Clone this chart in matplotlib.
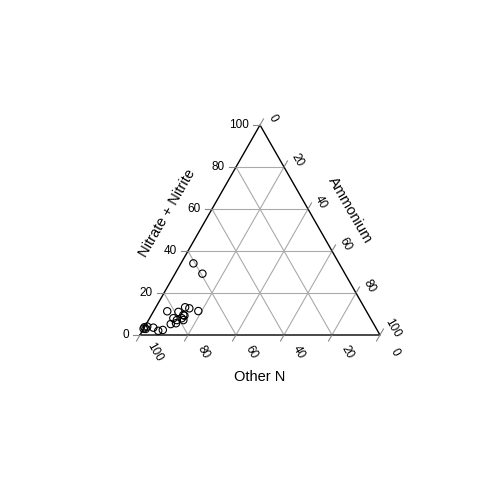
import matplotlib
matplotlib.use("Agg")
import matplotlib.pyplot as plt
import numpy as np

plt.rcParams['font.family'] = ['Liberation Sans', 'DejaVu Sans']

nitrate = [34.1, 29.2, 11.3, 11.0, 13.2, 12.7, 11.4, 9.5, 8.0, 7.1, 8.0, 9.2, 7.1, 5.2, 5.6, 3.5, 2.4, 2.0, 3.7, 2.9, 3.0, 4.0]
ammonium = [5.2, 11.4, 5.7, 10.5, 12.2, 14.2, 18.6, 13.3, 9.9, 11.8, 13.4, 13.9, 14.5, 10.2, 12.2, 3.8, 8.3, 6.6, 0.0, 0.9, 0.0, 1.0]
ticks = [0, 20, 40, 60, 80, 100]

fig = plt.figure(figsize=(4.8, 4.8), dpi=100)
ax = fig.add_axes([0, 0, 1, 1])
ax.set_xlim(0, 480); ax.set_ylim(480, 0); ax.axis('off')

X0, Y0, W, H = 140, 335, 240, 210
def xy(n, a):
    n = np.asarray(n, float); a = np.asarray(a, float)
    return X0 + W * (a + n / 2) / 100, Y0 - H * n / 100

for k in [20, 40, 60, 80]:
    for a, b in [(xy(k, 0), xy(k, 100 - k)), (xy(0, k), xy(100 - k, k)), (xy(0, k), xy(k, 0))]:
        ax.plot([a[0], b[0]], [a[1], b[1]], color='#aaaaaa', lw=0.8)

tri = [xy(0, 0), xy(0, 100), xy(100, 0), xy(0, 0)]
ax.plot([p[0] for p in tri], [p[1] for p in tri], color='black', lw=1)

c60, s60 = 0.5, np.sqrt(3) / 2
fs = 8.5
for t in ticks:
    x, y = xy(t, 0)
    ax.plot([x, x - 7], [y, y], color='#888888', lw=0.8)
    ax.text(x - 11, y, str(t), ha='right', va='center', fontsize=fs)
    x, y = xy(100 - t, t)
    ax.plot([x, x + 7 * c60], [y, y - 7 * s60], color='#888888', lw=0.8)
    ax.text(x + 13, y - 7, str(t), ha='center', va='center', fontsize=fs, rotation=-60)
    x, y = xy(0, 100 - t)
    ax.plot([x, x - 7 * c60], [y, y + 7 * s60], color='#888888', lw=0.8)
    ax.text(x + 15, y + 17, str(t), ha='center', va='center', fontsize=fs, rotation=-60)

ax.text(167, 213, 'Nitrate + Nitrite', rotation=60, ha='center', va='center', fontsize=10.5)
ax.text(350, 210, 'Ammonium', rotation=-60, ha='center', va='center', fontsize=10.5)
ax.text(260, 377, 'Other N', ha='center', va='center', fontsize=10.5)

px, py = xy(nitrate, ammonium)
ax.scatter(px, py, s=28, facecolors='none', edgecolors='black', linewidths=0.8, zorder=3)

fig.savefig('out.png', dpi=100)
